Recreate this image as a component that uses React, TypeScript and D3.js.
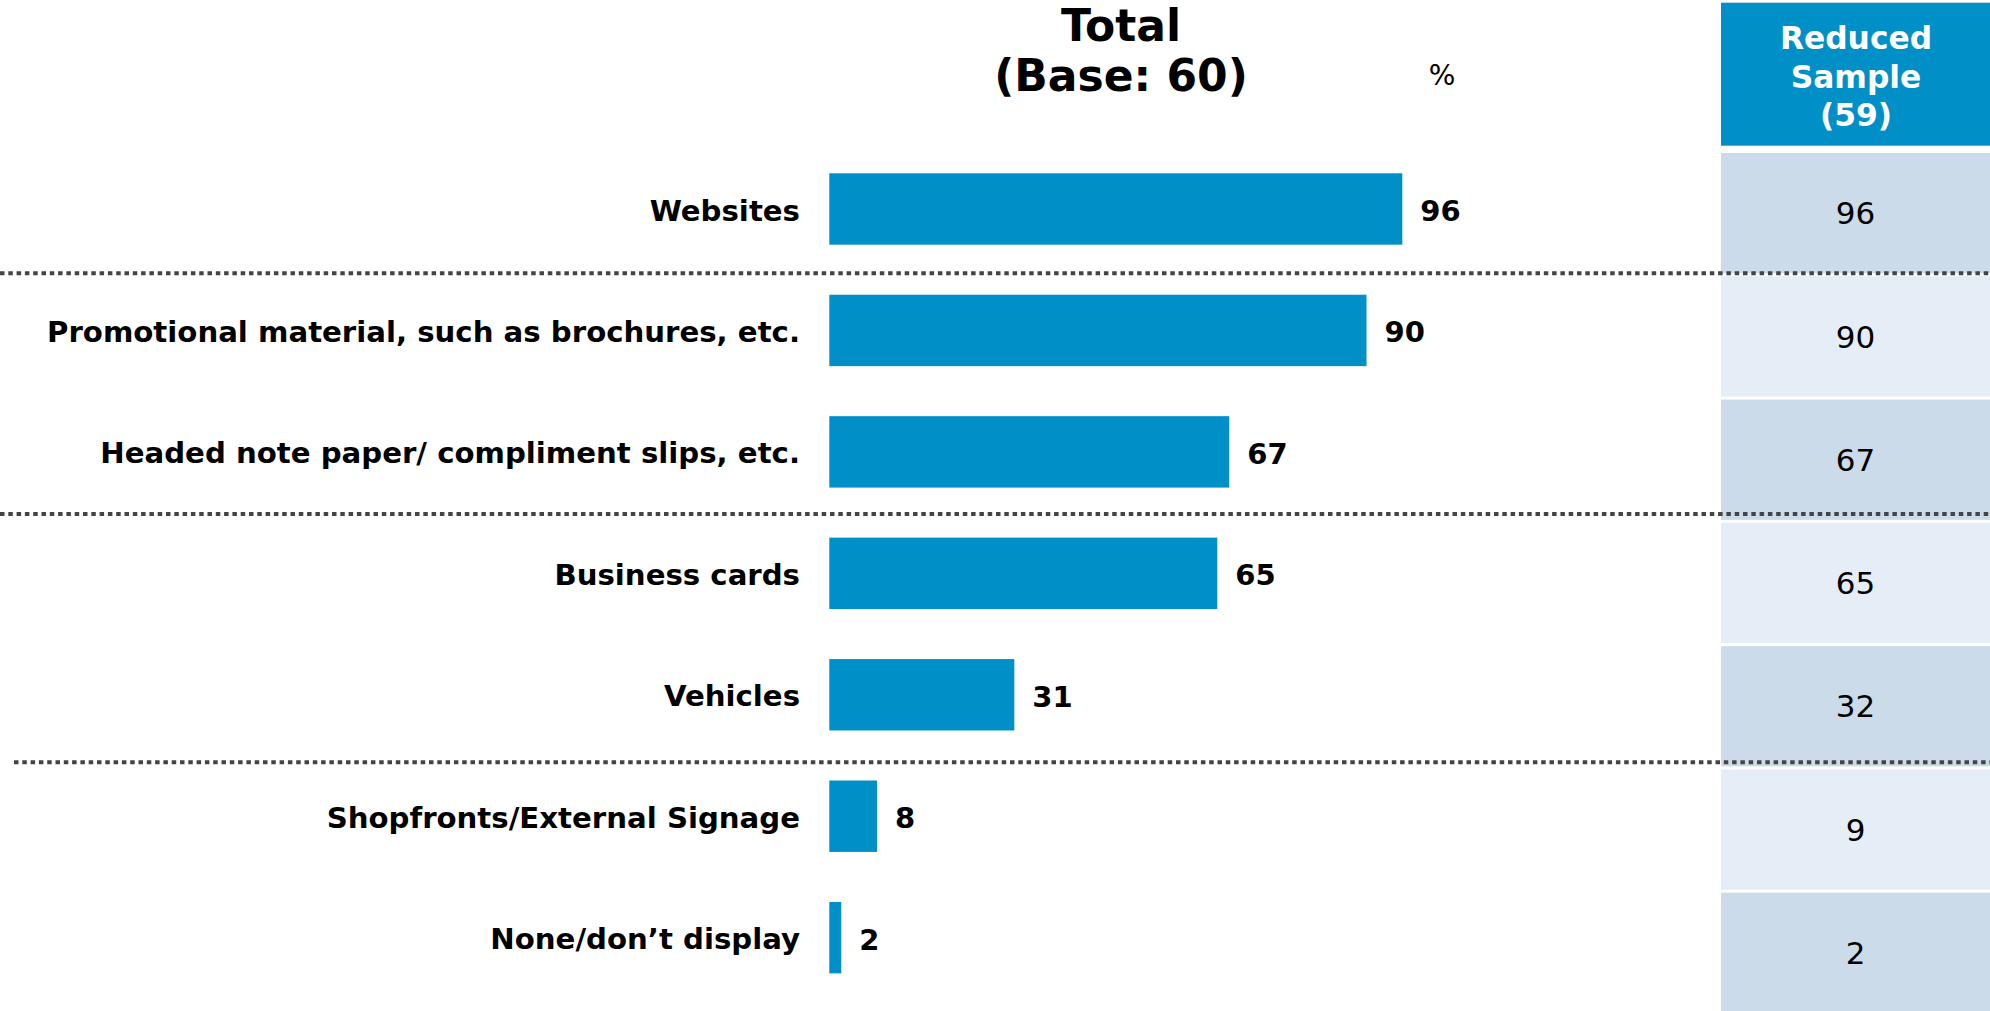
import React, { useEffect } from "react";
import * as d3 from "d3";

const categories = [
  "Websites",
  "Promotional material, such as brochures, etc.",
  "Headed note paper/ compliment slips, etc.",
  "Business cards",
  "Vehicles",
  "Shopfronts/External Signage",
  "None/don\u2019t display",
];
const totalValues = [96, 90, 67, 65, 31, 8, 2];
const reducedValues = [96, 90, 67, 65, 32, 9, 2];
const titleLines = ["Total", "(Base: 60)"];
const headerLines = ["Reduced", "Sample", "(59)"];
const unitLabel = "%";

const W = 1990;
const H = 1011;
const BLUE = "#0090C7";
const CELL_DARK = "#CBDBE9";
const CELL_LIGHT = "#E5EDF6";
const FONT = "'DejaVu Sans', Verdana, sans-serif";
const SEP = [
  { y: 273.3, x0: 0 },
  { y: 514, x0: 0 },
  { y: 762.3, x0: 14 },
];

export default function App() {
  useEffect(() => {
    document.body.style.margin = "0";
    document.body.style.overflow = "hidden";
  }, []);

  const x = d3.scaleLinear().domain([0, 100]).range([829.3, 829.3 + 596.9]);
  const y = d3
    .scaleBand<string>()
    .domain(categories)
    .range([123.25, 1023.4])
    .paddingInner(0.412)
    .paddingOuter(0.412);
  const yt = d3
    .scaleBand<string>()
    .domain(categories)
    .range([153, 1013])
    .paddingInner(0.0244)
    .paddingOuter(0);

  const labelSize = 29.2;
  const valueSize = 29;
  const cellSize = 31;

  return (
    <svg
      width={W}
      height={H}
      style={{ position: "absolute", left: 0, top: 0, background: "#fff" }}
      fontFamily={FONT}
    >
      <defs>
        <filter id="shadow" x="-1%" y="-200%" width="102%" height="500%">
          <feGaussianBlur stdDeviation="2.5" />
        </filter>
      </defs>
      <rect x={0} y={0} width={W} height={H} fill="#fff" />

      {/* title */}
      {titleLines.map((t, i) => (
        <text
          key={t}
          x={1121}
          y={41 + i * 50}
          textAnchor="middle"
          fontWeight="bold"
          fontSize={44}
          fill="#000"
        >
          {t}
        </text>
      ))}
      <text x={1442} y={85} textAnchor="middle" fontSize={28} fill="#000">
        {unitLabel}
      </text>

      {/* header box */}
      <rect x={1721} y={2.7} width={W - 1721} height={143} fill={BLUE} />
      {headerLines.map((t, i) => (
        <text
          key={t}
          x={1856}
          y={49 + i * 38.5}
          textAnchor="middle"
          fontWeight="bold"
          fontSize={31.3}
          fill="#fff"
        >
          {t}
        </text>
      ))}

      {/* table cells */}
      {categories.map((c, i) => (
        <g key={"cell" + i}>
          <rect
            x={1721}
            y={yt(c)!}
            width={W - 1721}
            height={yt.bandwidth()}
            fill={i % 2 === 0 ? CELL_DARK : CELL_LIGHT}
          />
          <text
            x={1855.5}
            y={yt(c)! + yt.bandwidth() / 2 + cellSize * 0.36}
            textAnchor="middle"
            fontSize={cellSize}
            fill="#000"
          >
            {reducedValues[i]}
          </text>
        </g>
      ))}

      {/* bars */}
      {categories.map((c, i) => {
        const cy = y(c)! + y.bandwidth() / 2;
        return (
          <g key={"bar" + i}>
            <text
              x={800}
              y={cy + labelSize * 0.36 + 1}
              textAnchor="end"
              fontWeight="bold"
              fontSize={labelSize}
              fill="#000"
            >
              {c}
            </text>
            <rect
              x={x(0)}
              y={y(c)!}
              width={x(totalValues[i]) - x(0)}
              height={y.bandwidth()}
              fill={BLUE}
            />
            <text
              x={x(totalValues[i]) + 18}
              y={cy + valueSize * 0.36 + 1.5}
              fontWeight="bold"
              fontSize={valueSize}
              fill="#000"
            >
              {totalValues[i]}
            </text>
          </g>
        );
      })}

      {/* dotted separators */}
      {SEP.map((s, i) => (
        <g key={"sep" + i}>
          <line
            x1={s.x0}
            x2={W}
            y1={s.y + 5}
            y2={s.y + 5}
            stroke="#999"
            strokeOpacity={0.45}
            strokeWidth={5}
            filter="url(#shadow)"
          />
          <line
            x1={s.x0}
            x2={W}
            y1={s.y}
            y2={s.y}
            stroke="#444"
            strokeWidth={4}
            strokeDasharray="4.5 3.8"
          />
        </g>
      ))}
    </svg>
  );
}
